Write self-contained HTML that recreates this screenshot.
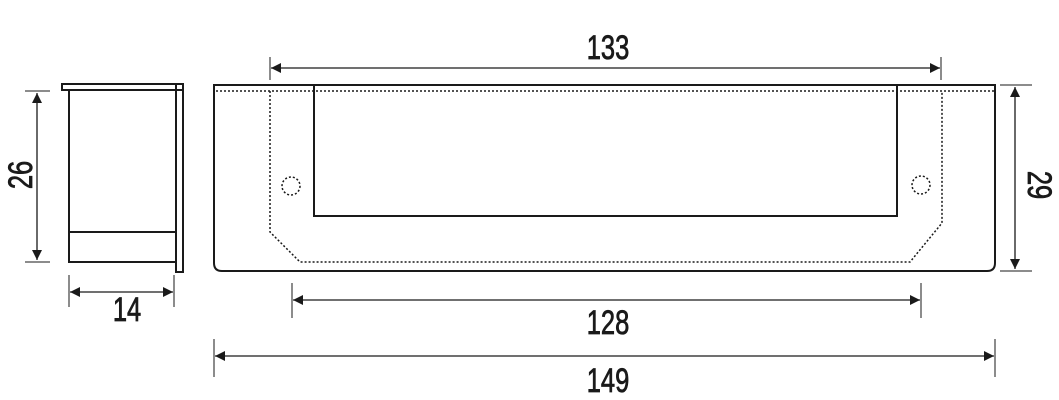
<!DOCTYPE html>
<html><head><meta charset="utf-8"><style>
html,body{margin:0;padding:0;background:#fff;}
svg{display:block;}
text{font-family:"Liberation Sans",sans-serif;font-size:34px;fill:#1a1a1a;stroke:#1a1a1a;stroke-width:0.8;}
</style></head><body>
<svg width="1059" height="400" viewBox="0 0 1059 400" xmlns="http://www.w3.org/2000/svg">
<defs>
<marker id="a" viewBox="0 0 10 10" refX="10" refY="5" markerWidth="10" markerHeight="10" markerUnits="userSpaceOnUse" orient="auto-start-reverse">
<path d="M0,0 L10,5 L0,10 Z" fill="#1a1a1a"/></marker>
</defs>
<g stroke="#1a1a1a" fill="none">
<rect x="62" y="84" width="121" height="6" stroke-width="2"/>
<rect x="69" y="90" width="107" height="172" stroke-width="2"/>
<line x1="69" y1="232" x2="176" y2="232" stroke-width="2"/>
<rect x="176" y="84" width="7" height="188" stroke-width="2"/>
<line x1="25" y1="91" x2="50" y2="91" stroke-width="1"/>
<line x1="25" y1="262" x2="50" y2="262" stroke-width="1"/>
<line x1="37" y1="93" x2="37" y2="260" stroke-width="1.3" marker-start="url(#a)" marker-end="url(#a)"/>
<line x1="69" y1="275" x2="69" y2="307" stroke-width="1"/>
<line x1="174" y1="275" x2="174" y2="307" stroke-width="1"/>
<line x1="70" y1="292" x2="173" y2="292" stroke-width="1.3" marker-start="url(#a)" marker-end="url(#a)"/>
<path d="M214,85 H995 V263 Q995,271 987,271 H222 Q214,271 214,263 Z" stroke-width="2"/>
<rect x="314" y="85" width="583" height="131" stroke-width="2"/>
<line x1="216" y1="91" x2="994" y2="91" stroke-width="1.5" stroke-dasharray="2,2"/>
<path d="M270,91 V232 L300,262 H910 L942,223 V91" stroke-width="1.5" stroke-dasharray="2,2"/>
<circle cx="291" cy="186" r="9" stroke-width="1.5" stroke-dasharray="2,2"/>
<circle cx="921" cy="185" r="9" stroke-width="1.5" stroke-dasharray="2,2"/>
<line x1="270" y1="57" x2="270" y2="80" stroke-width="1"/>
<line x1="941" y1="57" x2="941" y2="80" stroke-width="1"/>
<line x1="271" y1="68" x2="940" y2="68" stroke-width="1.3" marker-start="url(#a)" marker-end="url(#a)"/>
<line x1="1000" y1="85" x2="1032" y2="85" stroke-width="1"/>
<line x1="1000" y1="271" x2="1032" y2="271" stroke-width="1"/>
<line x1="1015" y1="87" x2="1015" y2="269" stroke-width="1.3" marker-start="url(#a)" marker-end="url(#a)"/>
<line x1="292" y1="283" x2="292" y2="318" stroke-width="1"/>
<line x1="921" y1="283" x2="921" y2="318" stroke-width="1"/>
<line x1="293" y1="300" x2="920" y2="300" stroke-width="1.3" marker-start="url(#a)" marker-end="url(#a)"/>
<line x1="214" y1="339" x2="214" y2="377" stroke-width="1"/>
<line x1="995" y1="339" x2="995" y2="377" stroke-width="1"/>
<line x1="215" y1="356" x2="994" y2="356" stroke-width="1.3" marker-start="url(#a)" marker-end="url(#a)"/>
</g>
<text transform="translate(608,59) scale(0.75,1)" text-anchor="middle">133</text>
<text transform="translate(608,334) scale(0.75,1)" text-anchor="middle">128</text>
<text transform="translate(608,392) scale(0.75,1)" text-anchor="middle">149</text>
<text transform="translate(127,321) scale(0.75,1)" text-anchor="middle">14</text>
<text transform="translate(32,175) rotate(-90) scale(0.75,1)" text-anchor="middle">26</text>
<text transform="translate(1028,185) rotate(90) scale(0.75,1)" text-anchor="middle">29</text>
</svg>
</body></html>
